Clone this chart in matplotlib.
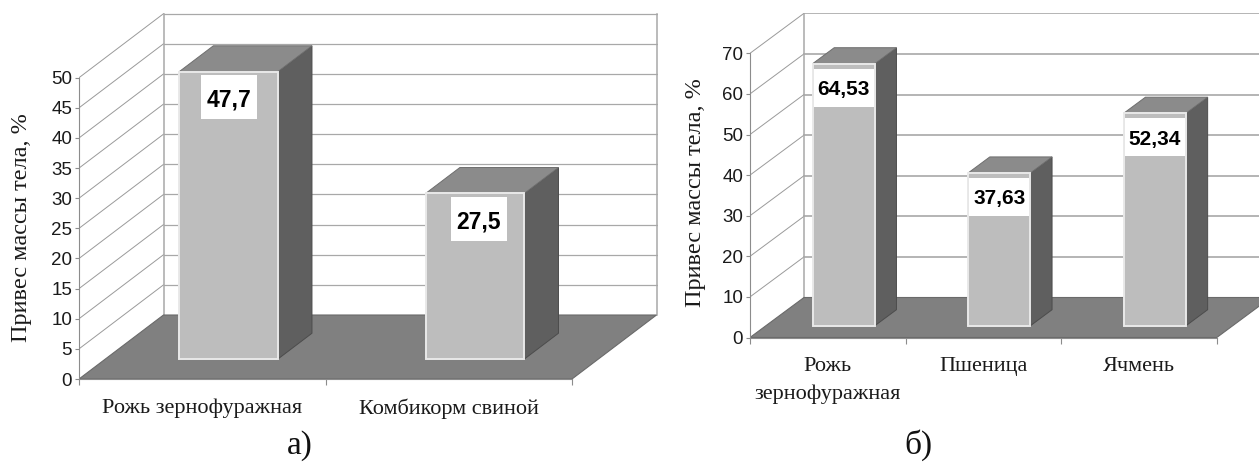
# -*- coding: utf-8 -*-
from matplotlib import pyplot as plt

W, H = 1259, 462

cats_a = ['Рожь зернофуражная', 'Комбикорм свиной']
vals_a = [47.7, 27.5]
labels_a = ['47,7', '27,5']
ticks_a = list(range(0, 55, 5))

cats_b = ['Рожь\nзернофуражная', 'Пшеница', 'Ячмень']
vals_b = [64.53, 37.63, 52.34]
labels_b = ['64,53', '37,63', '52,34']
ticks_b = list(range(0, 80, 10))

SERIF = 'Liberation Serif'
SANS = 'Liberation Sans'

C_FACE = '#bdbdbd'
C_EDGE = '#e9e9e9'
C_SIDE = '#5f5f5f'
C_TOP = '#8b8b8b'
C_FLOOR = '#808080'
C_GRID = '#a8a8a8'
C_AXIS = '#8c8c8c'

plt.rcParams['font.family'] = SANS
fig = plt.figure(figsize=(W/100, H/100), dpi=100)


def chart(cats, vals, labels, ticks, left, right, y0, top, cat_w, unit, dx_px, dy_px,
          base, depth, font, box_top, box_bot, box_w, shift, ylab_x, ylab_y, tick_size, back_lw):
    # axes in pixels of the figure, data in categories and percents
    ax = fig.add_axes([left/W, 1-y0/H, (right-left)/W, (y0-top)/H])
    n = len(cats)
    vmax = ticks[-1]
    ax.set_xlim(0, (right-left)/cat_w)
    ax.set_ylim(0, (y0-top)/unit)
    dx = dx_px/cat_w
    dv = dy_px/unit
    xback = n + dx

    def pr(x, v, d):
        return x + d*dx, v + d*dv

    # walls and grid
    for t in ticks[1:]:
        ax.plot([0, dx], [t, t+dv], color='#9a9a9a', lw=0.7, zorder=1)
        ax.plot([dx, xback], [t+dv, t+dv], color=C_GRID, lw=back_lw, zorder=1)
    ax.plot([dx, dx], [dv, vmax+dv], color=C_GRID, lw=1.1, zorder=1)
    ax.plot([xback, xback], [dv, vmax+dv], color=C_GRID, lw=1.1, zorder=1)

    # floor
    ax.fill([0, n, xback, dx], [0, 0, dv, dv], facecolor=C_FLOOR, edgecolor='#6a6a6a',
            lw=0.8, zorder=2)

    # bars
    for i, v in enumerate(vals):
        x1 = i + 0.30
        x2 = x1 + 0.40
        fl = [pr(x1, 0, base), pr(x2, 0, base), pr(x2, v, base), pr(x1, v, base)]
        bl = [pr(x1, 0, base+depth), pr(x2, 0, base+depth), pr(x2, v, base+depth), pr(x1, v, base+depth)]
        ax.fill(*zip(fl[1], bl[1], bl[2], fl[2]), facecolor=C_SIDE, edgecolor='#4c4c4c', lw=0.7, zorder=3)
        ax.fill(*zip(fl[3], fl[2], bl[2], bl[3]), facecolor=C_TOP, edgecolor='#6e6e6e', lw=0.7, zorder=3)
        ax.fill(*zip(*fl), facecolor=C_FACE, edgecolor=C_EDGE, lw=1.4, zorder=4)

        # value label on white box
        cx = (fl[0][0]+fl[1][0])/2 + shift[i]/cat_w
        vtop = fl[2][1]
        ax.fill([cx-box_w/2/cat_w, cx+box_w/2/cat_w, cx+box_w/2/cat_w, cx-box_w/2/cat_w],
                [vtop-box_top/unit, vtop-box_top/unit, vtop-box_bot/unit, vtop-box_bot/unit],
                facecolor='white', edgecolor='none', zorder=5)
        ax.text(cx, vtop-(box_top+box_bot)/2/unit, labels[i], ha='center', va='center_baseline',
                fontsize=font, fontweight='bold', family=SANS, color='black', zorder=6)

    # axes
    for s in ['top', 'right']:
        ax.spines[s].set_visible(False)
    ax.spines['left'].set_bounds(0, vmax)
    ax.spines['bottom'].set_bounds(0, n)
    ax.spines['left'].set_color(C_AXIS)
    ax.spines['bottom'].set_color(C_AXIS)
    ax.patch.set_alpha(0)
    ax.set_yticks(ticks)
    ax.tick_params(axis='y', length=3, color=C_AXIS, labelsize=tick_size, pad=2, labelcolor='#1a1a1a')
    ax.set_xticks(list(range(n+1)))
    ax.set_xticklabels([])
    ax.tick_params(axis='x', which='major', length=4, color=C_AXIS)
    ax.set_xticks([i+0.5 for i in range(n)], minor=True)
    ax.set_xticklabels(cats, minor=True, family=SERIF, fontsize=16, color='#1a1a1a', linespacing=1.6)
    ax.tick_params(axis='x', which='minor', length=0, pad=14)
    fig.text(ylab_x/W, 1-ylab_y/H, 'Привес массы тела, %', rotation=90, ha='center', va='center',
             family=SERIF, fontsize=17.5, color='#1a1a1a')


chart(cats_a, vals_a, labels_a, ticks_a, 79, 657.5, 379, 13, 246.5, 6.026, 84.5, 64,
      0.31, 0.405, 16.5, 3.7, 47.5, 56, [1, 4], 22, 228, 13.5, 0.9)
chart(cats_b, vals_b, labels_b, ticks_b, 750, 1259, 337.5, 13, 155.6, 4.06, 54, 40,
      0.295, 0.40, 15, 5, 43, 60, [0, 0, 0], 695, 192.5, 13.5, 1.2)

fig.text(300/W, 1-454/H, 'а)', ha='center', va='baseline', family=SERIF, fontsize=24, color='#111111')
fig.text(918/W, 1-454/H, 'б)', ha='center', va='baseline', family=SERIF, fontsize=24, color='#111111')

fig.savefig('out.png', dpi=100)
